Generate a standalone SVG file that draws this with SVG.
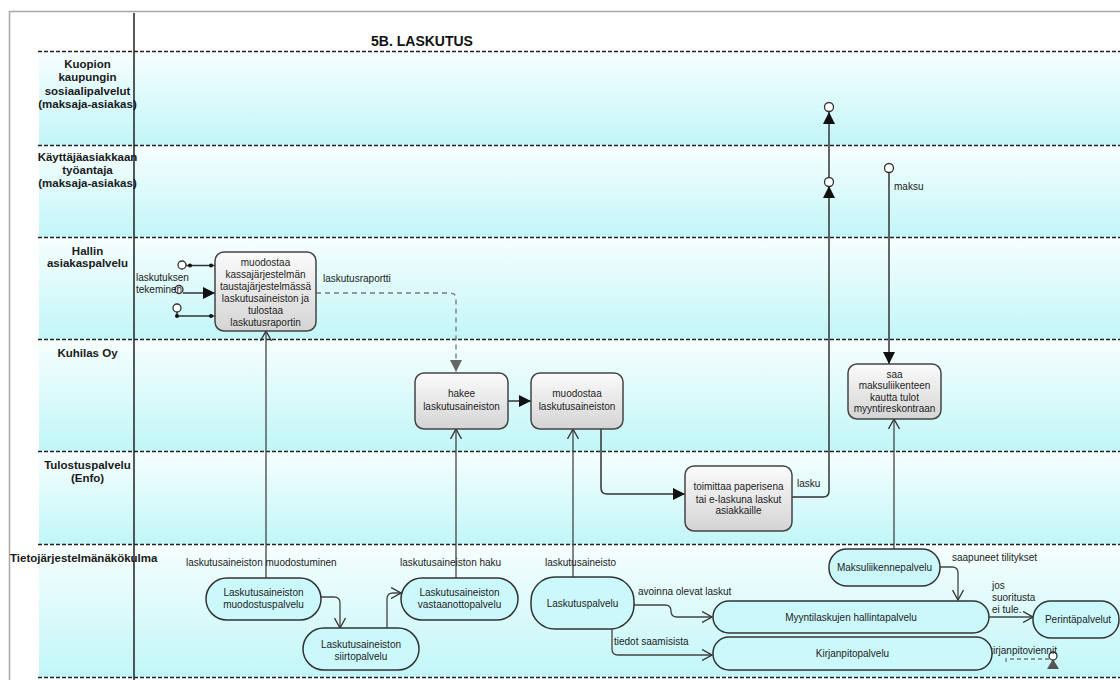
<svg xmlns="http://www.w3.org/2000/svg" width="1120" height="680" viewBox="0 0 1120 680">
  <defs>
    <linearGradient id="laneFill" x1="0" y1="0" x2="0" y2="1">
      <stop offset="0" stop-color="#f7fefe"/>
      <stop offset="1" stop-color="#c2f6f8"/>
    </linearGradient>
    <linearGradient id="taskFill" x1="0" y1="0" x2="0" y2="1">
      <stop offset="0" stop-color="#fbfbfb"/>
      <stop offset="1" stop-color="#d4d4d4"/>
    </linearGradient>
    <marker id="tri" viewBox="0 0 12 12" refX="12" refY="6" markerWidth="12" markerHeight="12" orient="auto" markerUnits="userSpaceOnUse">
      <path d="M0,0 L12,6 L0,12 z" fill="#111"/>
    </marker>
    <marker id="triGray" viewBox="0 0 12 12" refX="12" refY="6" markerWidth="12" markerHeight="12" orient="auto" markerUnits="userSpaceOnUse">
      <path d="M0,0 L12,6 L0,12 z" fill="#666"/>
    </marker>
    <marker id="open" viewBox="0 0 11 12" refX="10" refY="6" markerWidth="11" markerHeight="12" orient="auto" markerUnits="userSpaceOnUse">
      <path d="M0,0.5 L10,6 L0,11.5" fill="none" stroke="#333" stroke-width="1.3"/>
    </marker>
  </defs>
  <style>
    .lane { fill: url(#laneFill); }
    .sep { stroke: #222; stroke-width: 1.3; stroke-dasharray: 4 2; fill: none; }
    .laneLabel { font-family: "Liberation Sans", Arial, sans-serif; font-size: 11.5px; font-weight: bold; fill: #1a1a1a; text-anchor: middle; }
    .title { font-family: "Liberation Sans", Arial, sans-serif; font-size: 14px; font-weight: bold; fill: #111; text-anchor: middle; }
    .task rect { fill: url(#taskFill); stroke: #444; stroke-width: 1.5; }
    .svc rect { fill: #cbf8fb; stroke: #333; stroke-width: 1.5; }
    .nodeText { font-family: "Liberation Sans", Arial, sans-serif; font-size: 10px; fill: #1e1e1e; text-anchor: middle; }
    .lbl { font-family: "Liberation Sans", Arial, sans-serif; font-size: 10px; fill: #222; }
    .flow { fill: none; stroke: #333; stroke-width: 1.5; }
    .link { fill: none; stroke: #444; stroke-width: 1.3; }
    .dash { fill: none; stroke: #777; stroke-width: 1.3; stroke-dasharray: 5 4; }
    .port { fill: #fff; stroke: #333; stroke-width: 1.3; }
    .dot { fill: #111; }
  </style>

  <!-- page background and frame -->
  <rect x="0" y="0" width="1120" height="680" fill="#fff"/>
  <rect x="9.5" y="11.5" width="1200" height="700" fill="none" stroke="#a8a8a8" stroke-width="1.5"/>

  <!-- swimlanes -->
  <g id="lanes">
    <rect class="lane" x="39" y="52" width="1081" height="93"/>
    <rect class="lane" x="39" y="145" width="1081" height="92"/>
    <rect class="lane" x="39" y="237" width="1081" height="102"/>
    <rect class="lane" x="39" y="339" width="1081" height="112"/>
    <rect class="lane" x="39" y="451" width="1081" height="93"/>
    <rect class="lane" x="39" y="544" width="1081" height="133"/>
    <path class="sep" d="M38,51.5 H1120 M38,145.5 H1120 M38,237.5 H1120 M38,339.5 H1120 M38,451.5 H1120 M38,544.5 H1120 M38,677.5 H1120"/>
    <line x1="134" y1="13" x2="134" y2="680" stroke="#222" stroke-width="1.5"/>
    <text class="title" x="422" y="45.5">5B. LASKUTUS</text>
    <text class="laneLabel" x="87.5" y="68">Kuopion</text>
    <text class="laneLabel" x="87.5" y="81">kaupungin</text>
    <text class="laneLabel" x="87.5" y="95">sosiaalipalvelut</text>
    <text class="laneLabel" x="87.5" y="108">(maksaja-asiakas)</text>
    <text class="laneLabel" x="87.5" y="161">Käyttäjäasiakkaan</text>
    <text class="laneLabel" x="87.5" y="174">työantaja</text>
    <text class="laneLabel" x="87.5" y="187">(maksaja-asiakas)</text>
    <text class="laneLabel" x="87.5" y="255">Hallin</text>
    <text class="laneLabel" x="87.5" y="267">asiakaspalvelu</text>
    <text class="laneLabel" x="87.5" y="357">Kuhilas Oy</text>
    <text class="laneLabel" x="87.5" y="469">Tulostuspalvelu</text>
    <text class="laneLabel" x="87.5" y="482">(Enfo)</text>
    <text class="laneLabel" x="10" y="562" style="text-anchor:start">Tietojärjestelmänäkökulma</text>
  </g>

  <!-- connectors -->
  <g id="connectors">
    <!-- inputs of the billing report task -->
    <circle class="port" cx="182" cy="265" r="4"/>
    <path class="flow" d="M186,265.5 H215"/>
    <circle class="dot" cx="190" cy="265.5" r="2"/>
    <circle class="dot" cx="211" cy="265.5" r="2"/>
    <circle class="port" cx="179" cy="289.5" r="4"/>
    <path class="flow" d="M183,293 H215" marker-end="url(#tri)"/>
    <circle class="port" cx="177" cy="308" r="4"/>
    <path class="flow" d="M177,312 V316 H215"/>
    <circle class="dot" cx="177" cy="316" r="2"/>
    <circle class="dot" cx="211" cy="316" r="2"/>

    <!-- process flow -->
    <path class="dash" d="M316,293 H450 Q456,293 456,299 V372" marker-end="url(#triGray)"/>
    <path class="flow" d="M508,401 H531" marker-end="url(#tri)"/>
    <path class="flow" d="M601,429 V488 Q601,494 607,494 H685" marker-end="url(#tri)"/>
    <path class="flow" d="M792,497 H823 Q829,497 829,491 V112" marker-end="url(#tri)"/>
    <path d="M829,186 L823,198 L835,198 z" fill="#111"/>
    <circle class="port" cx="829" cy="182" r="4.5"/>
    <circle class="port" cx="829" cy="107" r="4.5"/>
    <path class="flow" d="M889,172.5 V364" marker-end="url(#tri)"/>
    <circle class="port" cx="889" cy="168" r="4.5"/>

    <!-- system links -->
    <path class="link" d="M266,578 V331" marker-end="url(#open)"/>
    <path class="link" d="M456,578 V429" marker-end="url(#open)"/>
    <path class="link" d="M573,577 V429" marker-end="url(#open)"/>
    <path class="link" d="M894,549 V419" marker-end="url(#open)"/>
    <path class="link" d="M321,597 H334 Q340,597 340,603 V628" marker-end="url(#open)"/>
    <path class="link" d="M387,628 V599 Q387,593 393,593 H401" marker-end="url(#open)"/>
    <path class="link" d="M634,605 H665 Q671,605 671,611 Q671,617 677,617 H712" marker-end="url(#open)"/>
    <path class="link" d="M612,629 V649 Q612,655 618,655 H712" marker-end="url(#open)"/>
    <path class="link" d="M940,567 H952 Q958,567 958,573 V600" marker-end="url(#open)"/>
    <path class="link" d="M989,617 H1033" marker-end="url(#open)"/>
    <path class="dash" d="M1006,662 V659 H1049" style="stroke-dasharray:4 3"/>
    <path d="M1047,669 L1053,659 L1059,669 z" fill="#555"/>
    <circle class="port" cx="1053" cy="656" r="4"/>

    <!-- connector labels -->
    <text class="lbl" x="136" y="280.5">laskutuksen</text>
    <text class="lbl" x="136" y="292.5">tekeminen</text>
    <text class="lbl" x="323" y="281.5">laskutusraportti</text>
    <text class="lbl" x="894" y="189.5">maksu</text>
    <text class="lbl" x="797" y="486.5">lasku</text>
    <text class="lbl" x="186" y="565.5">laskutusaineiston muodostuminen</text>
    <text class="lbl" x="400" y="565.5">laskutusaineiston haku</text>
    <text class="lbl" x="545" y="565.5">laskutusaineisto</text>
    <text class="lbl" x="638" y="594.5">avoinna olevat laskut</text>
    <text class="lbl" x="614" y="644.5">tiedot saamisista</text>
    <text class="lbl" x="952" y="560.5">saapuneet tilitykset</text>
    <text class="lbl" x="992" y="588.5">jos</text>
    <text class="lbl" x="992" y="600.5">suoritusta</text>
    <text class="lbl" x="992" y="612.5">ei tule.</text>
    <text class="lbl" x="988" y="653.5">kirjanpitoviennit</text>
  </g>

  <!-- tasks -->
  <g id="task-raportti" class="task">
    <rect x="215" y="252" width="101" height="79" rx="9"/>
    <text class="nodeText" x="265.5" y="265.5">muodostaa</text>
    <text class="nodeText" x="265.5" y="277.5">kassajärjestelmän</text>
    <text class="nodeText" x="265.5" y="289.5">taustajärjestelmässä</text>
    <text class="nodeText" x="265.5" y="301.5">laskutusaineiston ja</text>
    <text class="nodeText" x="265.5" y="313.5">tulostaa</text>
    <text class="nodeText" x="265.5" y="325.5">laskutusraportin</text>
  </g>
  <g id="task-hakee" class="task">
    <rect x="415" y="373" width="93" height="56" rx="9"/>
    <text class="nodeText" x="461.5" y="397">hakee</text>
    <text class="nodeText" x="461.5" y="410">laskutusaineiston</text>
  </g>
  <g id="task-muodostaa" class="task">
    <rect x="531" y="373" width="92" height="56" rx="9"/>
    <text class="nodeText" x="577" y="397">muodostaa</text>
    <text class="nodeText" x="577" y="410">laskutusaineiston</text>
  </g>
  <g id="task-toimittaa" class="task">
    <rect x="685" y="466" width="107" height="65" rx="9"/>
    <text class="nodeText" x="738.5" y="490">toimittaa paperisena</text>
    <text class="nodeText" x="738.5" y="502.5">tai e-laskuna laskut</text>
    <text class="nodeText" x="738.5" y="514">asiakkaille</text>
  </g>
  <g id="task-saa" class="task">
    <rect x="848" y="364" width="93" height="55" rx="9"/>
    <text class="nodeText" x="894.5" y="377.5">saa</text>
    <text class="nodeText" x="894.5" y="389">maksuliikenteen</text>
    <text class="nodeText" x="894.5" y="400.5">kautta tulot</text>
    <text class="nodeText" x="894.5" y="412">myyntireskontraan</text>
  </g>

  <!-- information system services -->
  <g id="svc-muodostus" class="svc">
    <rect x="206" y="578" width="115" height="42" rx="21"/>
    <text class="nodeText" x="263.5" y="596">Laskutusaineiston</text>
    <text class="nodeText" x="263.5" y="607.5">muodostuspalvelu</text>
  </g>
  <g id="svc-siirto" class="svc">
    <rect x="303" y="628" width="116" height="42" rx="21"/>
    <text class="nodeText" x="361" y="647.5">Laskutusaineiston</text>
    <text class="nodeText" x="361" y="659.5">siirtopalvelu</text>
  </g>
  <g id="svc-vastaanotto" class="svc">
    <rect x="401" y="578" width="117" height="42" rx="21"/>
    <text class="nodeText" x="459.5" y="596">Laskutusaineiston</text>
    <text class="nodeText" x="459.5" y="607.5">vastaanottopalvelu</text>
  </g>
  <g id="svc-laskutus" class="svc">
    <rect x="531" y="577" width="103" height="52" rx="24"/>
    <text class="nodeText" x="582.5" y="606.5">Laskutuspalvelu</text>
  </g>
  <g id="svc-maksuliikenne" class="svc">
    <rect x="829" y="549" width="111" height="37" rx="18"/>
    <text class="nodeText" x="884.5" y="570.5">Maksuliikennepalvelu</text>
  </g>
  <g id="svc-myyntilaskut" class="svc">
    <rect x="713" y="601" width="276" height="32" rx="16"/>
    <text class="nodeText" x="851" y="620.5">Myyntilaskujen hallintapalvelu</text>
  </g>
  <g id="svc-kirjanpito" class="svc">
    <rect x="713" y="637" width="279" height="33" rx="16"/>
    <text class="nodeText" x="852.5" y="657">Kirjanpitopalvelu</text>
  </g>
  <g id="svc-perinta" class="svc">
    <rect x="1033" y="601" width="86" height="37" rx="18"/>
    <text class="nodeText" x="1078" y="622.5">Perintäpalvelut</text>
  </g>
</svg>
